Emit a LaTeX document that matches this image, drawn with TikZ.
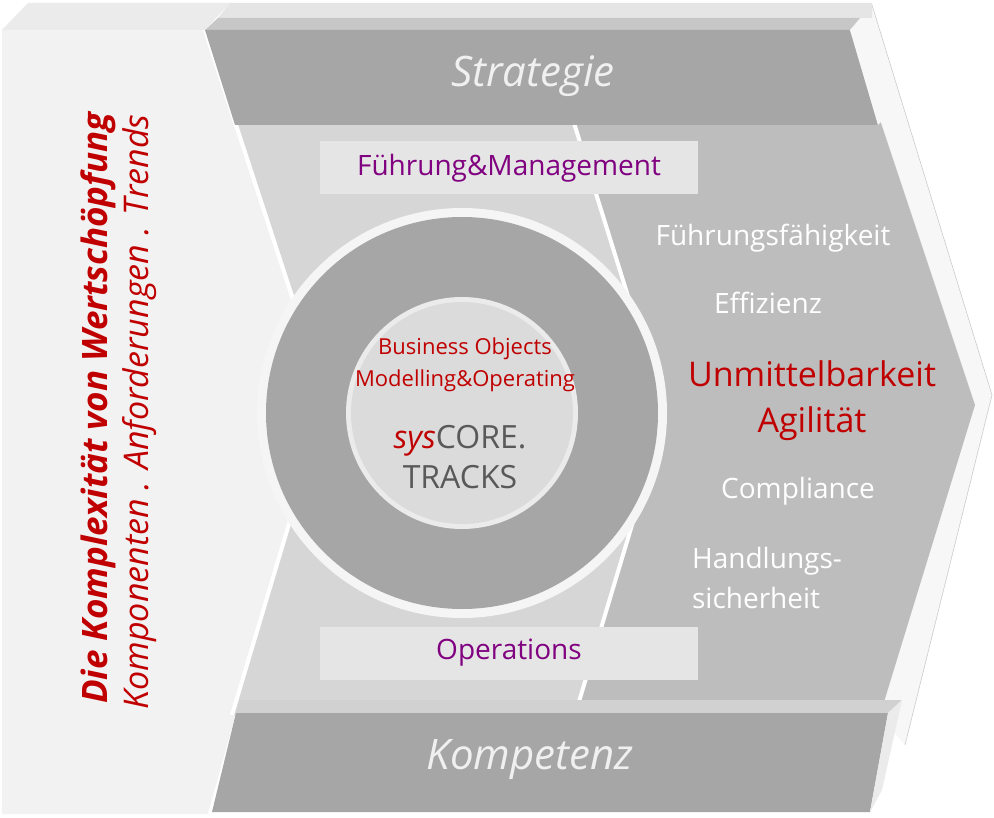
\documentclass[tikz,border=0pt]{standalone}
\usepackage{fontspec}
\setmainfont{Open Sans}
\definecolor{redt}{HTML}{C00000}
\definecolor{violett}{HTML}{800080}
\definecolor{bandd}{HTML}{A6A6A6}
\definecolor{bandm}{HTML}{D6D6D6}
\definecolor{bandr}{HTML}{BDBDBD}
\definecolor{coregray}{HTML}{595959}
\tikzset{
  panel/.style={draw=white, line width=3pt, line join=round},
  bartext/.style={text=white!94!black, font=\fontsize{42}{46}\selectfont\itshape},
  labelbox/.style={fill=white!90!black, minimum width=378pt, minimum height=53pt, text=violett, font=\fontsize{28}{30}\selectfont},
  righttext/.style={text=white, font=\fontsize{28}{40}\selectfont},
  redbig/.style={text=redt, font=\fontsize{34}{46}\selectfont},
}
\begin{document}
\begin{tikzpicture}[x=1pt, y=-1pt]
\useasboundingbox[fill=white] (0,0) rectangle (994,818);

% left panel
\fill[white!92!black] (2,30) -- (28,3) -- (230,3) -- (205,30) -- cycle;
\fill[white!95!black] (2,30) -- (205,30) -- (326,400) -- (210,814) -- (2,814) -- cycle;
\draw[white, line width=4pt] (205,30) -- (326,400) -- (210,814);

% outer side face
\fill[white!97!black] (850,30) -- (872,5) -- (992,395) -- (905,745) -- (880,715) -- (975,405) -- cycle;
\draw[white!80!black, line width=.6pt] (872,5) -- (992,395) -- (905,745);

% right area
\fill[bandr] (205,30) -- (850,30) -- (975,405) -- (880,715) -- (232,715) -- (326,400) -- cycle;
% middle band
\fill[bandm] (205,30) -- (545,30) -- (665,415) -- (575,715) -- (232,715) -- (326,400) -- cycle;
\draw[white, line width=4pt] (545,30) -- (665,415) -- (575,715);
\draw[white, line width=4pt] (205,30) -- (326,400) -- (232,715);

% top bar
\fill[white!90!black] (230,3) -- (872,3) -- (872,18) -- (218,18) -- cycle;
\fill[white!78!black] (218,18) -- (860,18) -- (850,30) -- (205,30) -- cycle;
\fill[bandd] (205,30) -- (850,30) -- (878,125) -- (235,125) -- cycle;
\fill[white!97!black] (850,30) -- (862,18) -- (890,112) -- (878,125) -- cycle;
\node[bartext] (strategie) at (533,76) {Strategie};

% bottom bar
\fill[white!82!black] (240,700) -- (902,700) -- (888,713) -- (236,713) -- cycle;
\fill[bandd] (236,713) -- (888,713) -- (870,812) -- (212,812) -- cycle;
\fill[white!92!black] (888,713) -- (902,700) -- (882,790) -- (870,812) -- cycle;
\node[bartext] (kompetenz) at (530,760) {Kompetenz};

% label boxes
\node[labelbox] (fuehrung) at (509,168) {Führung\&Management};
\node[labelbox] (operations) at (509,653) {Operations};

% ring
\fill[white!96!black] (462,413) circle (205);
\fill[bandd] (462,413) circle (196);
\fill[white!92!black] (462,413) circle (116);
\fill[white!86!black] (462,413) circle (111);

\node[text=redt, font=\fontsize{22}{32}\selectfont, align=center] (bo) at (465,365) {Business Objects\\Modelling\&Operating};
\node[text=coregray, font=\fontsize{32}{40}\selectfont, align=center] (core) at (460,457) {{\color{redt}\itshape sys}CORE.\\TRACKS};

% right texts
\node[righttext] (fuehrungsf) at (773,238) {Führungsfähigkeit};
\node[righttext] (effizienz) at (768,303) {Effizienz};
\node[redbig, align=center] (agil) at (812,401) {Unmittelbarkeit\\Agilität};
\node[righttext] (compliance) at (798,491) {Compliance};
\node[righttext, align=left] (handlung) at (767,578) {Handlungs-\\sicherheit};

% left vertical texts
\node[rotate=90, text=redt, font=\fontsize{35}{38}\selectfont\bfseries\itshape] (komplex) at (98,408) {Die Komplexität von Wertschöpfung};
\node[rotate=90, text=redt, font=\fontsize{34}{38}\selectfont\itshape] (komponenten) at (140,412) {Komponenten . Anforderungen . Trends};
\end{tikzpicture}
\end{document}
